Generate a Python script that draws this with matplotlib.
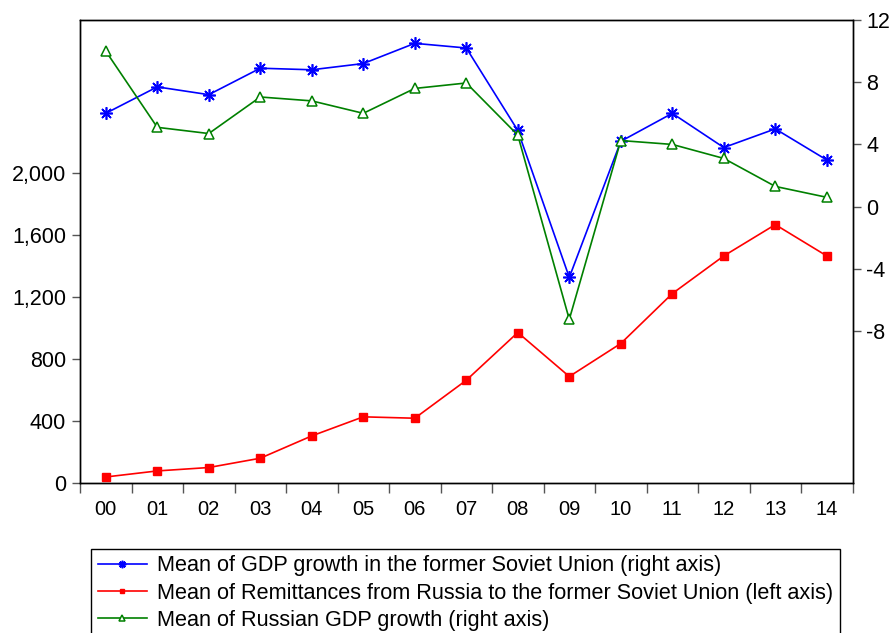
import matplotlib.pyplot as plt
from matplotlib.ticker import FuncFormatter

plt.rcParams['font.family'] = ['Liberation Sans', 'DejaVu Sans']
plt.rcParams['axes.unicode_minus'] = False

# Data
years = ['00', '01', '02', '03', '04', '05', '06', '07', '08', '09', '10', '11', '12', '13', '14']
gdp_fsu = [6.0, 7.7, 7.2, 8.9, 8.8, 9.2, 10.5, 10.2, 4.9, -4.55, 4.2, 6.0, 3.8, 5.0, 3.0]
remit = [42, 81, 103, 163, 307, 430, 421, 666, 974, 690, 903, 1225, 1468, 1670, 1468]
gdp_rus = [10.0, 5.1, 4.7, 7.05, 6.8, 6.0, 7.6, 7.95, 4.6, -7.25, 4.25, 4.0, 3.1, 1.3, 0.6]

labels = ['Mean of GDP growth in the former Soviet Union (right axis)',
          'Mean of Remittances from Russia to the former Soviet Union (left axis)',
          'Mean of Russian GDP growth (right axis)']

# Figure
fig = plt.figure(figsize=(8.93, 6.33), dpi=100, facecolor='white')
ax = fig.add_axes([0.0896, 0.2362, 0.8651, 0.7322])
ax2 = ax.twinx()

x = list(range(len(years)))

# Left axis: remittances
l2, = ax.plot(x, remit, color='#ff0000', lw=1.2, marker='s', ms=6,
              mec='#ff0000', mfc='#ff0000')

# Right axis: GDP growth
l1, = ax2.plot(x, gdp_fsu, color='#0000ff', lw=1.2, marker=(8, 2, 0), ms=9,
               mec='#0000ff', mew=1.2)
l3, = ax2.plot(x, gdp_rus, color='#008000', lw=1.2, marker='^', ms=7,
               mec='#008000', mfc='white', mew=1.1)

ax.set_xlim(-0.5, len(years) - 0.5)
ax.set_ylim(0, 2990)
ax2.set_ylim(-17.8, 12)

ax.set_yticks([0, 400, 800, 1200, 1600, 2000])
ax.yaxis.set_major_formatter(FuncFormatter(lambda v, p: '{:,.0f}'.format(v)))
ax2.set_yticks([-8, -4, 0, 4, 8, 12])

# x ticks at bin edges, labels centred in bins
ax.set_xticks([i - 0.5 for i in range(len(years) + 1)])
ax.set_xticklabels([])
ax.set_xticks(x, minor=True)
ax.set_xticklabels(years, minor=True)
ax.tick_params(axis='x', which='minor', length=0, pad=12, labelsize=14.5)
ax.tick_params(axis='x', which='major', length=7, width=1, color='#555555')
ax.tick_params(axis='y', length=6, width=1, color='#555555', labelsize=15.5, pad=4)
ax2.tick_params(axis='y', length=6, width=1, color='#555555', labelsize=15.5, pad=4)

for a in [ax, ax2]:
    for s in a.spines.values():
        s.set_linewidth(1.0)
        s.set_color('black')

fig.legend([l1, l2, l3], labels, loc='upper left',
           bbox_to_anchor=(91 / 893, 1 - 549 / 633), fontsize=15.6,
           frameon=True, fancybox=False, edgecolor='black', framealpha=1,
           handlelength=2.3, handletextpad=0.45, labelspacing=0.28,
           borderpad=0.3, borderaxespad=0, markerscale=0.6)

fig.savefig('out.png', dpi=100)
